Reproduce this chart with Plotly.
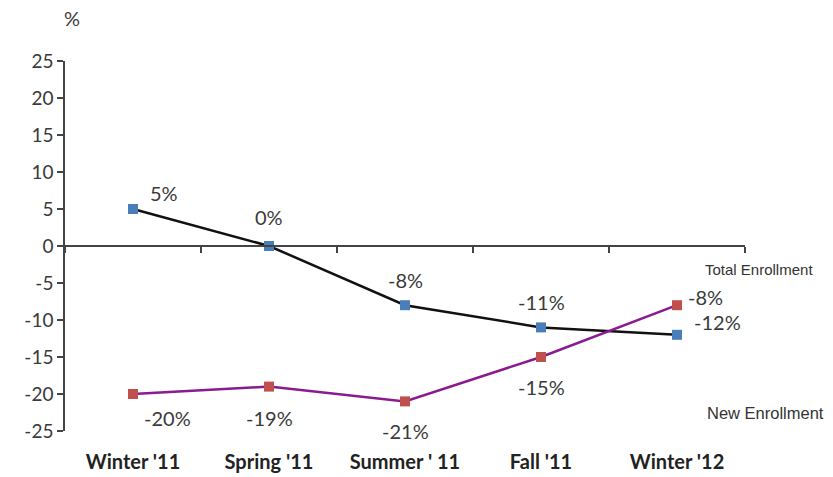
import plotly.graph_objects as go

categories = ["Winter '11", "Spring '11", "Summer ' 11", "Fall '11", "Winter '12"]
total_enrollment = [5, 0, -8, -11, -12]
new_enrollment = [-20, -19, -21, -15, -8]
y_ticks = [25, 20, 15, 10, 5, 0, -5, -10, -15, -20, -25]

# label offsets (pixels) for data labels
total_shift = [(31, 16), (0, 29), (0, 25), (0, 25), (40, 13)]
new_shift = [(34, -24), (0, -31), (0, -30), (0, -30), (28, 8)]

label_font = dict(family="Lato, Open Sans, sans-serif", size=20, color="#3a3a3a")

fig = go.Figure()
fig.add_trace(go.Scatter(
    x=categories, y=total_enrollment, mode="lines+markers",
    line=dict(color="#111111", width=2.5),
    marker=dict(symbol="square", size=10, color="#4a7ebb"),
    name="Total Enrollment", showlegend=False,
))
fig.add_trace(go.Scatter(
    x=categories, y=new_enrollment, mode="lines+markers",
    line=dict(color="#8a1a90", width=2.5),
    marker=dict(symbol="square", size=10, color="#c0504d"),
    name="New Enrollment", showlegend=False,
))
# dummy trace for the zero-line axis
fig.add_trace(go.Scatter(
    x=categories, y=[None] * len(categories), xaxis="x2", yaxis="y",
    mode="lines", showlegend=False, hoverinfo="skip",
))

annotations = []
for c, v, (dx, dy) in zip(categories, total_enrollment, total_shift):
    annotations.append(dict(x=c, y=v, xref="x", yref="y", text=f"{v}%",
                            showarrow=False, xshift=dx, yshift=dy, font=label_font))
for c, v, (dx, dy) in zip(categories, new_enrollment, new_shift):
    annotations.append(dict(x=c, y=v, xref="x", yref="y", text=f"{v}%",
                            showarrow=False, xshift=dx, yshift=dy, font=label_font))

narrow = "Liberation Sans Narrow, Arial Narrow, Liberation Sans, sans-serif"
annotations.append(dict(x=0.938, y=-3.2, xref="paper", yref="y", text="Total Enrollment",
                        showarrow=False, xanchor="left",
                        font=dict(family=narrow, size=15, color="#333333")))
annotations.append(dict(x=0.941, y=-22.6, xref="paper", yref="y", text="New Enrollment",
                        showarrow=False, xanchor="left",
                        font=dict(family=narrow, size=16.5, color="#333333")))
annotations.append(dict(x=-0.004, y=1.155, xref="paper", yref="paper", text="%",
                        showarrow=False, font=dict(family="Lato, sans-serif", size=20, color="#3a3a3a")))

fig.update_layout(
    width=833, height=477,
    margin=dict(l=65, r=88, t=61, b=46),
    paper_bgcolor="white", plot_bgcolor="white",
    xaxis=dict(
        type="category", categoryarray=categories, range=[-0.5, 4.5],
        showline=False, ticks="", showgrid=False, zeroline=False,
        ticklabelstandoff=17, automargin=False,
        tickfont=dict(family="Lato, Open Sans, sans-serif", size=20, color="#222222", weight="bold"),
    ),
    xaxis2=dict(
        type="category", categoryarray=categories, range=[-0.5, 4.5],
        overlaying="x", anchor="free", position=0.5,
        showline=True, linecolor="#444444", linewidth=1.5,
        ticks="outside", tickson="boundaries", ticklen=6, tickcolor="#444444", tickwidth=1.5,
        showticklabels=False, showgrid=False, zeroline=False, automargin=False,
    ),
    yaxis=dict(
        range=[-25, 25], tickvals=y_ticks, ticktext=[str(t) for t in y_ticks],
        showline=True, linecolor="#444444", linewidth=1.5,
        ticks="outside", ticklen=6, tickcolor="#444444", tickwidth=1.5,
        showgrid=False, zeroline=False, automargin=False,
        tickfont=dict(family="Lato, Open Sans, sans-serif", size=19, color="#3a3a3a"),
    ),
    annotations=annotations,
)

fig.write_html("out.html", config={"displayModeBar": False},
               post_script="document.body.style.margin='0';document.body.style.overflow='hidden';")
